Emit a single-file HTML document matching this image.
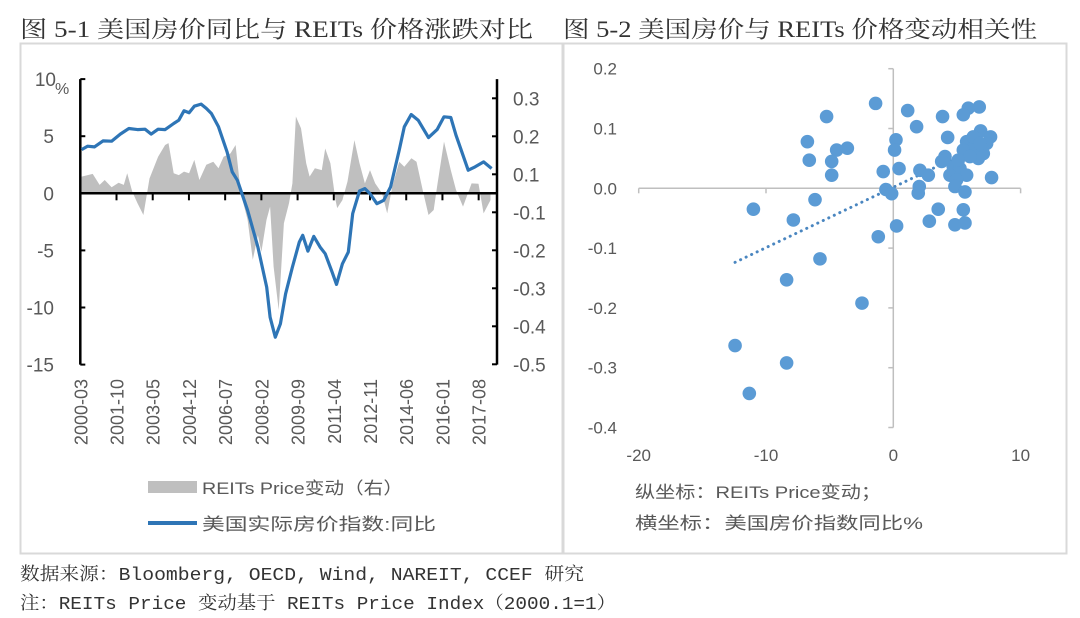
<!DOCTYPE html>
<html><head><meta charset="utf-8"><style>
html,body{margin:0;padding:0;background:#fff;}
svg{display:block;}
text{font-family:"Liberation Sans","Noto Sans CJK SC",sans-serif;fill:#595959;}
.serif{font-family:"Liberation Serif","Noto Serif CJK SC",serif;fill:#333;}
.mono{font-family:"Liberation Mono","Noto Serif CJK SC",serif;fill:#333;}
</style></head><body>
<svg id="svg" width="1080" height="618" viewBox="0 0 1080 618" xmlns="http://www.w3.org/2000/svg">
<text class="serif" x="20" y="37" font-size="23" textLength="513" lengthAdjust="spacingAndGlyphs">图 5-1 美国房价同比与 REITs 价格涨跌对比</text>
<text class="serif" x="563" y="37" font-size="23" textLength="474" lengthAdjust="spacingAndGlyphs">图 5-2 美国房价与 REITs 价格变动相关性</text>
<rect x="20.5" y="43.5" width="542" height="510" fill="none" stroke="#d9d9d9" stroke-width="2"/>
<rect x="563.5" y="43.5" width="503" height="510" fill="none" stroke="#d9d9d9" stroke-width="2"/>
<g id="left"></g>
<g id="right"></g>
<rect x="148" y="481" width="49" height="12" fill="#bfbfbf"/>
<text x="202" y="494" font-size="17" textLength="201" lengthAdjust="spacingAndGlyphs">REITs Price变动（右）</text>
<line x1="148" y1="523" x2="197" y2="523" stroke="#2e75b6" stroke-width="4"/>
<text x="202" y="530" font-size="17" textLength="234" lengthAdjust="spacingAndGlyphs">美国实际房价指数:同比</text>
<text x="635" y="498" font-size="17" textLength="246" lengthAdjust="spacingAndGlyphs" fill="#333">纵坐标：REITs Price变动；</text>
<text x="635" y="529" font-size="17" textLength="288" lengthAdjust="spacingAndGlyphs">横坐标：美国房价指数同比%</text>
<text class="mono" x="20" y="580" font-size="18" textLength="564" lengthAdjust="spacingAndGlyphs">数据来源：Bloomberg, OECD, Wind, NAREIT, CCEF 研究</text>
<text class="mono" x="20" y="609" font-size="18" textLength="596" lengthAdjust="spacingAndGlyphs">注：REITs Price 变动基于 REITs Price Index（2000.1=1）</text>
</svg>
<script>
// ---- left chart data ----
const xTickLabels = ["2000-03","2001-10","2003-05","2004-12","2006-07","2008-02","2009-09","2011-04","2012-11","2014-06","2016-01","2017-08"];
const leftTicks = [10,5,0,-5,-10,-15];
const rightTickLabels = ["0.3","0.2","0.1","-0.1","-0.2","-0.3","-0.4","-0.5"];
const hpiMonths = [0.7,3.8,7.4,11.9,16.4,21,25.5,30,34,37.2,40.8,44.5,49,51.7,54.4,57.1,59.8,63.4,66.1,68.8,72.5,77,79.7,82.4,87.8,93.2,97.8,99.6,102.3,105,107.7,111.3,114.9,116.7,119.4,122.5,125.8,128.5,132.1,134.4,137.5,140.6,142.9,146.5,149.3,152,155.6,159.2,162.8,167.3,170,173.6,177.3,182.7,187.2,190.8,194.4,197.1,203.5,207.1,211.6,215.8];
const hpiValues = [3.83,4.12,4.06,4.59,4.56,5.18,5.67,5.58,5.61,5.18,5.61,5.58,6.11,6.40,7.22,7.05,7.63,7.81,7.43,6.99,5.82,3.62,1.87,1.14,-1.49,-4.71,-8.22,-10.85,-12.6,-11.43,-8.8,-6.46,-4.27,-3.68,-5.06,-3.77,-4.71,-5.29,-6.90,-7.98,-6.17,-5.15,-1.78,0.20,0.41,-0.03,-0.91,-0.61,0.56,3.77,5.82,6.90,6.40,4.88,5.58,6.70,6.64,5.09,2.02,2.31,2.75,2.17];
const reitsMonths = [0.7,6.5,10.1,12.8,16.4,20.1,22.8,24.6,27.3,30,33.1,36.3,40.8,44.5,46.3,49,51.7,54.4,57.1,59.8,62.5,66.1,69.8,72.5,75.2,78.8,81.5,84.2,87.8,90.5,93.2,95,97.7,99.6,101.4,104.1,106.8,109.5,111.3,113.1,115.8,118.5,120.3,123.1,126.7,128.5,131.2,133.9,134.8,137.5,140.2,143.8,146.5,149.3,152,154.7,158.3,161,163.7,167.3,170,173.7,176.4,180,182.7,185.4,187.2,190.8,194.4,197.1,200.8,205.3,208.9,211.6,215.2];
const reitsValues = [0.044,0.051,0.022,0.035,0.016,0.028,0.022,0.053,0.004,-0.026,-0.057,0.039,0.096,0.127,0.132,0.053,0.048,0.057,0.053,0.088,0.035,0.075,0.083,0.066,0.096,0.105,0.127,0,-0.070,-0.175,-0.110,-0.154,-0.070,-0.035,-0.193,-0.307,-0.079,-0.026,0.026,0.202,0.171,0.079,0.044,0.066,0.061,0.118,0.079,-0.018,-0.039,-0.018,0.031,0.140,0.079,0.026,0.061,0.026,0,-0.053,0.018,0.083,0.070,0.092,0.083,0,-0.057,-0.044,0.018,0.136,0.061,0.009,-0.035,0.026,0.025,-0.053,-0.018];
// ---- scatter data ----
const scatterX = [-1.39,1.13,-5.24,3.87,1.83,6.75,5.89,5.50,6.86,7.64,4.27,0.21,-6.75,0.10,-4.45,-3.61,-6.60,-4.84,-4.84,-0.79,0.45,2.09,2.75,4.06,3.80,5.76,6.28,7.07,6.68,5.50,6.02,7.33,4.71,5.24,4.45,5.76,4.97,4.84,7.72,2.04,1.96,-0.58,-0.13,5.63,3.53,5.50,2.83,4.84,5.63,0.26,-1.18,-6.15,-10.99,-7.85,-5.76,-8.38,-2.46,-12.43,-8.38,-11.31,6.28,6.81,5.10];
const scatterY = [0.142,0.130,0.120,0.120,0.103,0.136,0.134,0.123,0.096,0.086,0.085,0.081,0.078,0.064,0.064,0.067,0.047,0.045,0.022,0.028,0.033,0.030,0.022,0.053,0.045,0.078,0.067,0.058,0.050,0.064,0.053,0.075,0.036,0.033,0.022,0.022,0.014,0.003,0.018,0.003,-0.008,-0.002,-0.009,-0.006,-0.035,-0.036,-0.055,-0.061,-0.058,-0.063,-0.081,-0.019,-0.035,-0.053,-0.118,-0.153,-0.192,-0.263,-0.292,-0.343,0.086,0.075,0.047];
const scatterXTicks = [-20,-10,0,10];
const scatterYTicks = [0.2,0.1,0.0,-0.1,-0.2,-0.3,-0.4];

const NS="http://www.w3.org/2000/svg";
function mk(tag, parent, attrs){const e=document.createElementNS(NS,tag);for(const k in attrs)e.setAttribute(k,attrs[k]);parent.appendChild(e);return e;}

const L=document.getElementById('left');
const X0=80.3, X1=497, PXM=1.906, Y0=193.3, PXL=11.42, PXR=380;
const xm=m=>X0+m*PXM, yl=v=>Y0-v*PXL, yr=v=>Y0-v*PXR;
let d="M"+xm(reitsMonths[0])+","+Y0;
reitsMonths.forEach((m,i)=>{d+=" L"+xm(m).toFixed(1)+","+yr(reitsValues[i]).toFixed(1);});
d+=" L"+xm(reitsMonths[reitsMonths.length-1])+","+Y0+" Z";
const area=mk('path',L,{d:d,fill:'#bfbfbf'});


const la=mk('line',L,{x1:X0,y1:yl(10),x2:X0,y2:yl(-15),stroke:'#000','stroke-width':2.5});


const ra=mk('line',L,{x1:X1,y1:yl(10),x2:X1,y2:yl(-15),stroke:'#000','stroke-width':2.5});


const za=mk('line',L,{x1:X0,y1:Y0,x2:X1,y2:Y0,stroke:'#000','stroke-width':2.5});


leftTicks.forEach(v=>{
  mk('line',L,{x1:X0,y1:yl(v),x2:X0+5,y2:yl(v),stroke:'#000','stroke-width':2});
  const t=mk('text',L,{x:v===10?56:54,y:yl(v)+7,'font-size':19,'text-anchor':'end'});t.textContent=v;
  
  
});
const pct=mk('text',L,{x:55,y:yl(10)+15,'font-size':16});pct.textContent='%';


rightTickLabels.forEach((lab,i)=>{
  const y=98.3+i*38;
  mk('line',L,{x1:X1-5,y1:y,x2:X1,y2:y,stroke:'#000','stroke-width':2});
  const t=mk('text',L,{x:513,y:y+7,'font-size':19});t.textContent=lab;
  
  
});
xTickLabels.forEach((lab,i)=>{
  const x=xm(i*19);
  if(i>0) mk('line',L,{x1:x,y1:Y0,x2:x,y2:Y0+7,stroke:'#000','stroke-width':2});
  const t=mk('text',L,{x:0,y:0,'font-size':18,'text-anchor':'end',transform:`translate(${x+7},379) rotate(-90)`});t.textContent=lab;
  
  
});
const pts=hpiMonths.map((m,i)=>xm(m).toFixed(1)+","+yl(hpiValues[i]).toFixed(1)).join(" ");
const ln=mk('polyline',L,{points:pts,fill:'none',stroke:'#2e75b6','stroke-width':3.2,'stroke-linejoin':'round'});



const R=document.getElementById('right');
const SX0=893.3, SPX=12.73, SY0=188.3, SPY=598;
const sx=x=>SX0+x*SPX, sy=y=>SY0-y*SPY;
const ya=mk('line',R,{x1:SX0,y1:sy(0.2),x2:SX0,y2:sy(-0.4),stroke:'#bfbfbf','stroke-width':1.5});


const xa=mk('line',R,{x1:sx(-20),y1:SY0,x2:sx(10),y2:SY0,stroke:'#bfbfbf','stroke-width':1.5});


scatterYTicks.forEach(v=>{
  mk('line',R,{x1:SX0-5,y1:sy(v),x2:SX0,y2:sy(v),stroke:'#bfbfbf','stroke-width':1.5});
  const t=mk('text',R,{x:617,y:sy(v)+6,'font-size':17,'text-anchor':'end'});t.textContent=v.toFixed(1);
  
  
});
scatterXTicks.forEach(v=>{
  mk('line',R,{x1:sx(v),y1:SY0,x2:sx(v),y2:SY0+5,stroke:'#bfbfbf','stroke-width':1.5});
  const t=mk('text',R,{x:sx(v),y:461,'font-size':17,'text-anchor':'middle'});t.textContent=v;
  
  
});
const n=scatterX.length;let mx=0,my=0;for(let i=0;i<n;i++){mx+=scatterX[i];my+=scatterY[i];}mx/=n;my/=n;
let sxy=0,sxx=0;for(let i=0;i<n;i++){sxy+=(scatterX[i]-mx)*(scatterY[i]-my);sxx+=(scatterX[i]-mx)**2;}
const slope=sxy/sxx, icpt=my-slope*mx;
const xmin=Math.min(...scatterX), xmax=Math.max(...scatterX);
const tr=mk('line',R,{x1:sx(xmin),y1:sy(icpt+slope*xmin),x2:sx(xmax),y2:sy(icpt+slope*xmax),stroke:'#4a86c0','stroke-width':3,'stroke-dasharray':'0.1 6','stroke-linecap':'round'});


scatterX.forEach((x,i)=>{
  const c=mk('circle',R,{cx:sx(x),cy:sy(scatterY[i]),r:6.8,fill:'#5b9bd5'});
  
  
});
</script>
</body></html>
